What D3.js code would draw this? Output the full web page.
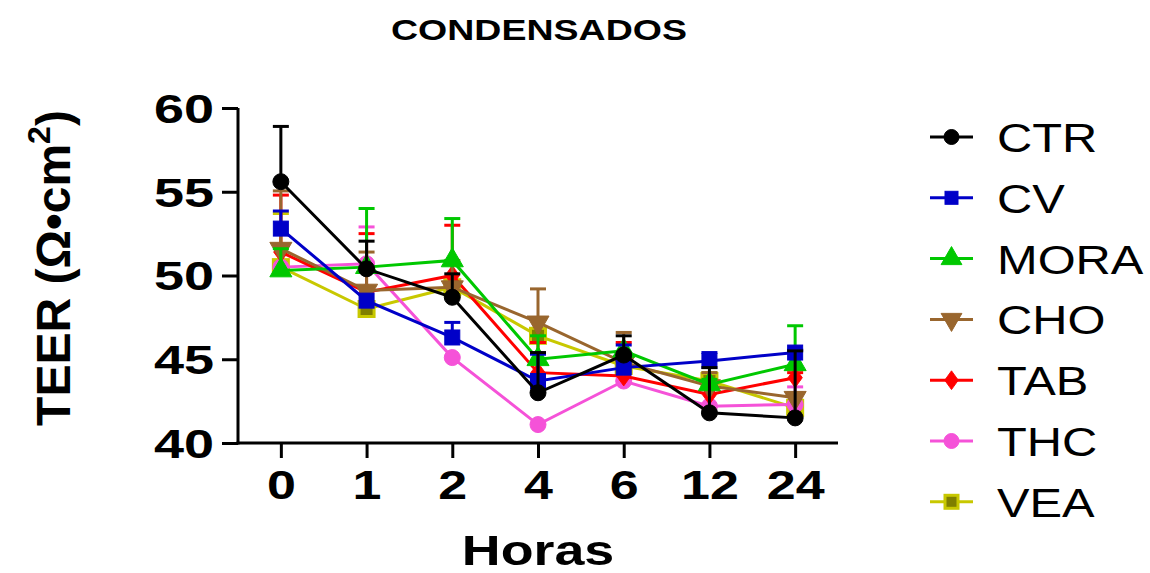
<!DOCTYPE html>
<html><head><meta charset="utf-8">
<script src="https://cdn.jsdelivr.net/npm/d3@7"></script>
<style>body{margin:0;background:#fff}svg{display:block}text{font-family:"Liberation Sans",Arial,sans-serif}</style>
</head><body>
<svg id="c" width="1150" height="573"></svg>
<script>
const categories = ["0","1","2","4","6","12","24"];
const seriesNames = ["CTR","CV","MORA","CHO","TAB","THC","VEA"];
const CTR  = [55.6, 50.4, 48.7, 43.0, 45.25, 41.8, 41.5];
const CV   = [52.8, 48.5, 46.3, 43.7, 44.5, 44.9, 45.4];
const MORA = [50.3, 50.5, 50.9, 45.0, 45.5, 43.5, 44.7];
const CHO  = [51.6, 49.1, 49.3, 47.2, 44.8, 43.4, 42.7];
const TAB  = [51.4, 49.0, 50.0, 44.2, 44.0, 42.9, 43.9];
const THC  = [50.5, 50.7, 45.1, 41.1, 43.7, 42.2, 42.3];
const VEA  = [50.5, 48.0, 49.3, 46.4, 44.6, 43.7, 42.1];
// top of error bars (mean + SEM), drawn upward only
const CTR_err  = [58.9, 52.05, 50.1, 45.4, 46.4, 44.5, 45.5];
const CV_err   = [53.85, 48.5, 47.2, 45.3, 45.85, 45.4, 45.55];
const MORA_err = [51.6, 54.0, 53.4, 46.4, 45.5, 43.8, 47.0];
const CHO_err  = [55.05, 51.4, 50.9, 49.2, 46.6, 44.2, 43.0];
const TAB_err  = [54.8, 52.5, 53.0, 46.0, 46.0, 43.4, 44.2];
const THC_err  = [50.5, 52.9, 45.1, 41.1, 43.7, 42.2, 43.35];
const VEA_err  = [53.7, 48.0, 49.3, 46.4, 44.6, 44.2, 42.1];
const yTicks = [40, 45, 50, 55, 60];
const title = "CONDENSADOS";
const xTitle = "Horas";

const values = {CTR, CV, MORA, CHO, TAB, THC, VEA};
const errs = {CTR:CTR_err, CV:CV_err, MORA:MORA_err, CHO:CHO_err, TAB:TAB_err, THC:THC_err, VEA:VEA_err};
const style = {
  CTR:{line:"#000000", fill:"#000000", stroke:"#000000", shape:"circle"},
  CV:{line:"#0000c8", fill:"#0000c8", stroke:"#0000c8", shape:"square"},
  MORA:{line:"#00c800", fill:"#00c800", stroke:"#00c800", shape:"triangle"},
  CHO:{line:"#99662e", fill:"#99662e", stroke:"#99662e", shape:"triangleDown"},
  TAB:{line:"#ff0000", fill:"#ff0000", stroke:"#ff0000", shape:"diamond"},
  THC:{line:"#f552d8", fill:"#f552d8", stroke:"#f552d8", shape:"circle"},
  VEA:{line:"#c8c800", fill:"#7f7f00", stroke:"#c8c800", shape:"square"}
};

const svg = d3.select("#c");
const L = 238, R = 838, T = 108, B = 443;
const x = d3.scaleBand().domain(categories).range([L, R]).paddingInner(1).paddingOuter(0.5);
const xp = d => x(d) + x.bandwidth()/2;
const y = d3.scaleLinear().domain([40, 60]).range([B, T]);

function stretch(sel, sx){
  sel.each(function(){
    const w = this.getComputedTextLength();
    d3.select(this).attr("textLength", w*sx).attr("lengthAdjust","spacingAndGlyphs");
  });
}

// title
svg.append("text").attr("x", 539).attr("y", 40).attr("text-anchor","middle")
  .attr("font-size", 30).attr("font-weight","bold").text(title).call(stretch, 1.25);

// axes
const yAxis = svg.append("g").attr("transform", `translate(${L},0)`)
  .call(d3.axisLeft(y).tickValues(yTicks).tickSize(16).tickPadding(8));
const xAxis = svg.append("g").attr("transform", `translate(0,${B})`)
  .call(d3.axisBottom(x).tickSize(15).tickPadding(12));
[yAxis, xAxis].forEach(g=>{
  g.select(".domain").attr("stroke","#000").attr("stroke-width",3);
  g.selectAll(".tick line").attr("stroke","#000").attr("stroke-width",3);
  g.selectAll(".tick text").attr("font-size",40).attr("font-weight","bold").attr("fill","#000")
    .attr("font-family",'"Liberation Sans",Arial,sans-serif');
});
yAxis.select(".domain").attr("d", `M0,${T}V${B+1.5}`);
xAxis.select(".domain").attr("d", `M${L-1.5},0H${R}`);
yAxis.selectAll(".tick text").attr("dy","0.36em").call(stretch, 1.35);
xAxis.selectAll(".tick text").attr("dy","0.72em").call(stretch, 1.3);

// axis titles
svg.append("text").attr("x", 538).attr("y", 565).attr("text-anchor","middle")
  .attr("font-size", 43).attr("font-weight","bold").text(xTitle).call(stretch, 1.25);
const yl = svg.append("text").attr("transform","translate(70,268) rotate(-90)")
  .attr("text-anchor","middle").attr("font-size",48).attr("font-weight","bold");
yl.append("tspan").text("TEER (Ω•cm");
yl.append("tspan").attr("font-size",32).attr("dy",-20).text("2");
yl.append("tspan").attr("dy",20).text(")");

function marker(g, shape, cx, cy, s, st){
  let el;
  if (shape==="circle") el = g.append("circle").attr("cx",cx).attr("cy",cy).attr("r",s);
  else if (shape==="square") el = g.append("rect").attr("x",cx-s).attr("y",cy-s).attr("width",2*s).attr("height",2*s);
  else {
    const sym = shape==="triangle" ? d3.symbolTriangle : d3.symbolDiamond;
    let area = shape==="diamond" ? s*s*2.2 : s*s*2.6;
    el = g.append("path").attr("d", d3.symbol().type(shape==="triangleDown"?d3.symbolTriangle:sym).size(area)())
      .attr("transform", `translate(${cx},${cy})` + (shape==="triangleDown"?" rotate(180)":"") + (shape==="diamond"?" scale(1.0,0.8)":""));
  }
  el.attr("fill", st.fill).attr("stroke", st.stroke).attr("stroke-width", shape==="square" && st.fill!==st.stroke ? 3 : 1);
  return el;
}

const plot = svg.append("g");
const order = seriesNames.slice().reverse();
order.forEach(name=>{
  const st = style[name], v = values[name], e = errs[name];
  const g = plot.append("g");
  categories.forEach((c,i)=>{
    if (e[i] > v[i] + 0.05){
      g.append("line").attr("x1",xp(c)).attr("x2",xp(c)).attr("y1",y(v[i])).attr("y2",y(e[i]))
        .attr("stroke",st.line).attr("stroke-width",3);
      g.append("line").attr("x1",xp(c)-8).attr("x2",xp(c)+8).attr("y1",y(e[i])).attr("y2",y(e[i]))
        .attr("stroke",st.line).attr("stroke-width",3);
    }
  });
  g.append("path").datum(v).attr("fill","none").attr("stroke",st.line).attr("stroke-width",3)
    .attr("d", d3.line().x((d,i)=>xp(categories[i])).y(d=>y(d)));
  categories.forEach((c,i)=> marker(g, st.shape, xp(c), y(v[i]), st.shape==="circle"?8:(st.shape==="square"?7.5:9), st));
});

// legend
const lg = svg.append("g");
seriesNames.forEach((name,i)=>{
  const st = style[name], cy = 137 + i*60.8;
  lg.append("line").attr("x1",930).attr("x2",973).attr("y1",cy).attr("y2",cy).attr("stroke",st.line).attr("stroke-width",3);
  marker(lg, st.shape, 951.5, cy, st.shape==="circle"?7.5:(st.shape==="square"?6.5:8.5), st);
  lg.append("text").attr("x",997).attr("y",cy+15).attr("font-size",40).text(name).call(stretch,1.22);
});
</script>
</body></html>
